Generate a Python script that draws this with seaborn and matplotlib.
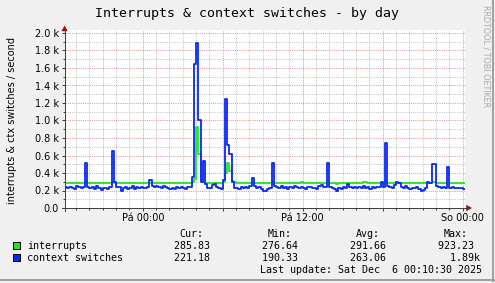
import numpy as np
import pandas as pd
import matplotlib
matplotlib.use("Agg")
import matplotlib.pyplot as plt
import seaborn as sns
from matplotlib.lines import Line2D
from matplotlib.patches import Polygon, Rectangle
from matplotlib.ticker import MultipleLocator, FixedLocator, FuncFormatter

# ---------------- data ----------------
title = "Interrupts & context switches - by day"
y_label = "interrupts & ctx switches / second"
x_tick_hours = [0, 6, 12, 18, 24]
x_tick_labels = ["Pá 00:00", "", "Pá 12:00", "", "So 00:00"]
series_names = ["interrupts", "context switches"]
stat_headers = ["Cur:", "Min:", "Avg:", "Max:"]
interrupts_stats = ["285.83 ", "276.64 ", "291.66 ", "923.23 "]
ctx_stats = ["221.18 ", "190.33 ", "263.06 ", "  1.89k"]
last_update = "Last update: Sat Dec  6 00:10:30 2025"
watermark = "RRDTOOL / TOBI OETIKER"

start_hour = -35 / 6      # Thu 18:10, hours relative to Fri 00:00
step_hour = 1 / 6         # 10 minute samples

interrupts = [
    285, 283, 288, 286, 284, 290, 287, 285, 289, 292, 286, 284,
    287, 285, 283, 286, 288, 284, 285, 287, 289, 295, 290, 286,
    284, 282, 285, 287, 283, 286, 288, 284, 285, 287, 283, 285,
    286, 284, 290, 287, 285, 283, 286, 288, 284, 285, 287, 283,
    285, 284, 286, 283, 287, 285, 284, 286, 288, 300, 330, 920,
    620, 320, 300, 290, 286, 288, 290, 287, 285, 284, 286, 292,
    400, 520, 420, 310, 292, 287, 285, 283, 286, 284, 287, 285,
    290, 286, 284, 283, 285, 282, 284, 286, 285, 292, 287, 285,
    284, 286, 285, 283, 287, 285, 288, 286, 284, 290, 300, 287,
    285, 283, 286, 288, 285, 284, 287, 289, 286, 285, 292, 286,
    284, 282, 277, 283, 285, 284, 286, 288, 285, 283, 286, 284,
    285, 287, 298, 300, 288, 285, 284, 286, 285, 287, 290, 286,
    300, 288, 286, 285, 287, 290, 289, 286, 284, 285, 283, 284,
    285, 284, 286, 283, 281, 282, 284, 290, 289, 295, 294, 288,
    286, 285, 284, 286, 287, 289, 286, 285, 284, 286, 285, 286,
]
context_switches = [
    235, 225, 245, 230, 220, 250, 245, 225, 240, 520, 235, 230,
    240, 220, 255, 225, 210, 225, 230, 215, 235, 650, 300, 240,
    235, 200, 225, 240, 215, 230, 250, 220, 235, 225, 240, 230,
    225, 240, 320, 255, 235, 250, 240, 225, 255, 240, 230, 220,
    230, 215, 240, 225, 245, 230, 220, 235, 245, 350, 1650, 1890,
    1000, 300, 540, 280, 225, 230, 265, 270, 240, 230, 220, 320,
    1250, 720, 620, 300, 230, 225, 215, 235, 225, 240, 230, 255,
    340, 250, 230, 235, 215, 190, 200, 215, 225, 520, 250, 235,
    230, 250, 225, 235, 220, 240, 225, 255, 235, 225, 245, 230,
    220, 235, 245, 225, 230, 220, 255, 260, 235, 240, 520, 235,
    230, 215, 200, 225, 220, 235, 230, 280, 240, 225, 235, 225,
    235, 225, 250, 230, 240, 220, 235, 230, 245, 235, 300, 240,
    740, 250, 240, 225, 260, 300, 290, 240, 230, 250, 225, 220,
    225, 230, 240, 215, 200, 205, 225, 300, 290, 500, 500, 250,
    240, 225, 235, 230, 470, 230, 235, 225, 230, 225, 230, 221,
]

GREEN = "#1EE61E"
BLUE = "#0A28F5"
BG = "#F0F0F0"

# ---------------- figure ----------------
W, H = 495, 283
plt.rcParams["font.family"] = ["DejaVu Sans"]
fig = plt.figure(figsize=(W / 100, H / 100), dpi=100, facecolor=BG)


def fx(x):
    return x / W


def fy(y):
    return 1 - y / H


ax = fig.add_axes([fx(65), fy(208), 400 / W, 178 / H])
ax.set_facecolor("white")

n = len(context_switches)
t = start_hour + step_hour * np.arange(n + 1)
df = pd.DataFrame({
    "t": t,
    "interrupts": interrupts + [interrupts[-1]],
    "context switches": context_switches + [context_switches[-1]],
})

sns.lineplot(data=df, x="t", y="interrupts", ax=ax, color=GREEN,
             linewidth=1.3, drawstyle="steps-post", estimator=None, zorder=3)
sns.lineplot(data=df, x="t", y="context switches", ax=ax, color=BLUE,
             linewidth=1.3, drawstyle="steps-post", estimator=None, zorder=4)

ax.set_xlim(t[0], t[-1])
ax.set_ylim(0, 2000 * 178 / 175)
ax.set_xlabel("")
ax.set_ylabel("")

ax.xaxis.set_major_locator(FixedLocator(x_tick_hours))
ax.xaxis.set_minor_locator(MultipleLocator(1))
ax.set_xticklabels(x_tick_labels)
ax.yaxis.set_major_locator(MultipleLocator(200))
ax.yaxis.set_minor_locator(MultipleLocator(100))
ax.yaxis.set_major_formatter(FuncFormatter(
    lambda v, p: "0.0" if abs(v) < 1e-9 else f"{v / 1000:.1f} k"))

ax.grid(which="minor", color="#C2C2C2", linestyle=(0, (1, 1.2)), linewidth=0.72)
ax.grid(which="major", color="#E29494", linestyle=(0, (1, 1.2)), linewidth=0.72)
ax.set_axisbelow(True)

for s in ax.spines.values():
    s.set_visible(False)

AX_C = "#404040"
ax.tick_params(axis="both", which="major", direction="out", length=2.16,
               width=0.72, color=AX_C, labelsize=7, labelcolor="black")
ax.tick_params(axis="both", which="minor", direction="out", length=1.44,
               width=0.72, color=AX_C)
ax.tick_params(axis="x", which="major", pad=1.6)
ax.tick_params(axis="y", which="major", pad=2.3)

# axis lines and arrows
fig.add_artist(Line2D([fx(62), fx(467)], [fy(208), fy(208)], color=AX_C,
                      lw=0.72, transform=fig.transFigure, zorder=5))
fig.add_artist(Line2D([fx(64.6), fx(64.6)], [fy(211), fy(30)], color=AX_C,
                      lw=0.72, transform=fig.transFigure, zorder=5))
ARROW_C = "#8C1515"
fig.add_artist(Polygon([(fx(466.5), fy(205.2)), (fx(471.5), fy(208)),
                        (fx(466.5), fy(210.8))], closed=True,
                       facecolor=ARROW_C, edgecolor=ARROW_C, lw=0.3,
                       transform=fig.transFigure, zorder=6))
fig.add_artist(Polygon([(fx(61.8), fy(31)), (fx(64.6), fy(26)),
                        (fx(67.4), fy(31))], closed=True,
                       facecolor=ARROW_C, edgecolor=ARROW_C, lw=0.3,
                       transform=fig.transFigure, zorder=6))

# title, labels, watermark
MONO = "DejaVu Sans Mono"
fig.text(fx(247), fy(17.3), title, ha="center", va="baseline",
         family=MONO, size=9.5, color="black")
fig.text(fx(11.7), fy(120.5), y_label, rotation=90, ha="center", va="center",
         size=7, color="black")
fig.text(fx(486), fy(5), watermark, rotation=270, ha="center", va="top",
         size=5.8, color="#A8A8A8")

# legend
colors = [GREEN, BLUE]
rows = [interrupts_stats, ctx_stats]
col_starts = [173.7, 261.7, 349.7, 437.7]
row_base = [249.2, 261.2]
for k, hdr in enumerate(stat_headers):
    fig.text(fx(col_starts[k] + 6), fy(237.3), hdr, ha="left", va="baseline",
             family=MONO, size=7.2, color="black")
for r in range(2):
    fig.add_artist(Rectangle((fx(13.3), fy(row_base[r] - 0.2)), 6.7 / W, 6.7 / H,
                             facecolor=colors[r], edgecolor="black", lw=0.72,
                             transform=fig.transFigure, zorder=5))
    fig.text(fx(27), fy(row_base[r]), series_names[r], ha="left",
             va="baseline", family=MONO, size=7.2, color="black")
    for k in range(4):
        fig.text(fx(col_starts[k]), fy(row_base[r]), rows[r][k], ha="left",
                 va="baseline", family=MONO, size=7.2, color="black")
fig.text(fx(482.5), fy(273.3), last_update, ha="right", va="baseline",
         family=MONO, size=7.2, color="black")

# frame shading (right / bottom)
fig.add_artist(Line2D([fx(492.5), fx(492.5)], [fy(0), fy(280.5)],
                      color="#A0A0A0", lw=1.44, transform=fig.transFigure))
fig.add_artist(Line2D([fx(0), fx(493.5)], [fy(279.5), fy(279.5)],
                      color="#A0A0A0", lw=1.44, transform=fig.transFigure))

fig.savefig("out.png", dpi=100, facecolor=BG)
